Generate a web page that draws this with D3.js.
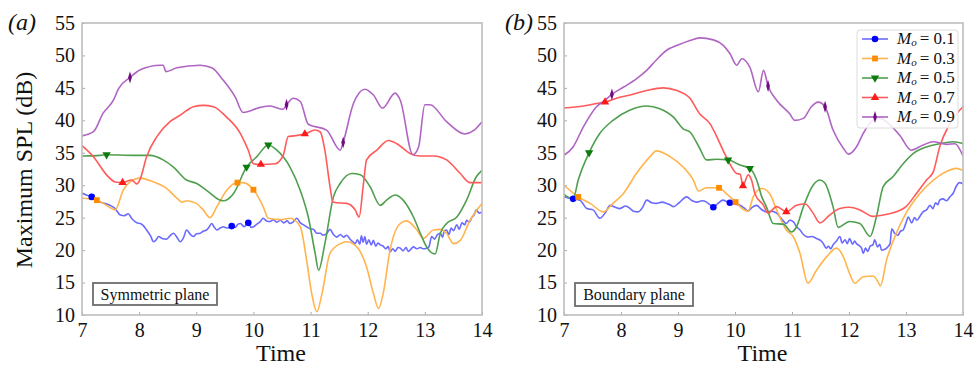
<!DOCTYPE html>
<html><head><meta charset="utf-8">
<script src="https://cdn.jsdelivr.net/npm/d3@7"></script>
<style>body{margin:0;background:#fff}svg{display:block}</style>
</head><body><svg id="c" width="978" height="365"></svg>
<script>
// ---------- DATA ----------
const machLabels = ["0.1","0.3","0.5","0.7","0.9"];
const xTicks = [7,8,9,10,11,12,13,14];
const yTicks = [10,15,20,25,30,35,40,45,50,55];
const panelTags = ["(a)","(b)"];
const planeNames = ["Symmetric plane","Boundary plane"];

// Symmetric plane (a)
const symM01 = [[7.0,28.8],[7.1,28.4],[7.17,28.2],[7.25,27.8],[7.32,27.4],[7.4,27.2],[7.49,26.9],[7.58,26.4],[7.67,25.4],[7.74,25.3],[7.81,25.6],[7.86,25.0],[7.9,24.6],[7.96,24.2],[8.02,24.1],[8.08,23.7],[8.13,23.1],[8.2,22.2],[8.25,21.3],[8.3,21.6],[8.34,22.1],[8.4,21.8],[8.48,21.7],[8.54,22.2],[8.6,22.6],[8.66,22.0],[8.72,21.3],[8.78,22.0],[8.83,23.1],[8.9,22.4],[8.95,22.1],[9.0,22.5],[9.07,22.6],[9.12,22.9],[9.18,23.1],[9.22,23.5],[9.27,24.1],[9.31,23.6],[9.36,23.1],[9.42,23.4],[9.47,23.6],[9.55,23.4],[9.62,23.7],[9.68,23.5],[9.73,24.0],[9.77,24.1],[9.84,23.6],[9.91,24.2],[9.96,23.5],[10.0,23.6],[10.06,24.0],[10.12,24.4],[10.17,24.9],[10.23,24.5],[10.29,24.4],[10.35,24.7],[10.41,24.3],[10.47,24.6],[10.53,24.2],[10.59,24.5],[10.64,24.1],[10.7,24.4],[10.76,24.9],[10.82,24.2],[10.88,23.9],[10.93,23.6],[10.99,23.3],[11.05,23.2],[11.11,22.6],[11.17,22.6],[11.22,22.3],[11.28,22.5],[11.34,23.2],[11.4,22.4],[11.46,22.0],[11.52,22.4],[11.58,22.0],[11.63,22.3],[11.7,21.6],[11.75,21.2],[11.78,21.0],[11.82,21.6],[11.86,20.9],[11.89,22.2],[11.92,21.2],[11.95,22.1],[11.98,20.9],[12.02,21.6],[12.06,20.8],[12.1,21.5],[12.14,20.6],[12.18,21.1],[12.22,20.8],[12.27,20.6],[12.32,20.2],[12.36,20.6],[12.39,19.7],[12.44,20.2],[12.48,19.8],[12.53,20.4],[12.57,20.3],[12.62,19.9],[12.67,20.4],[12.71,19.8],[12.74,20.0],[12.8,20.5],[12.86,20.2],[12.92,20.4],[12.97,20.2],[13.03,20.3],[13.07,20.5],[13.12,22.1],[13.17,21.7],[13.22,22.4],[13.27,22.6],[13.31,22.0],[13.34,23.0],[13.38,23.1],[13.42,22.4],[13.46,23.4],[13.5,23.0],[13.56,23.9],[13.6,23.2],[13.65,24.2],[13.7,23.9],[13.73,24.6],[13.78,24.3],[13.82,25.0],[13.86,25.4],[13.9,26.2],[13.95,25.7],[14.0,25.9]];
const symM03 = [[7.0,28.0],[7.26,27.7],[7.43,26.9],[7.58,26.2],[7.72,29.2],[7.84,30.5],[8.02,31.1],[8.25,30.5],[8.48,29.5],[8.66,28.0],[8.75,27.4],[8.83,27.6],[9.0,27.2],[9.12,26.2],[9.24,25.0],[9.36,26.7],[9.53,29.2],[9.72,30.4],[9.82,30.4],[10.0,29.3],[10.17,26.7],[10.26,24.9],[10.47,24.7],[10.64,24.9],[10.82,23.6],[10.93,18.5],[11.02,13.3],[11.11,10.5],[11.2,13.3],[11.34,19.5],[11.52,21.0],[11.63,21.3],[11.81,20.5],[11.98,17.4],[12.1,13.3],[12.19,11.0],[12.27,13.3],[12.39,20.0],[12.57,24.1],[12.68,24.5],[12.86,23.1],[12.97,21.8],[13.15,23.1],[13.27,23.2],[13.38,22.6],[13.5,21.0],[13.62,21.5],[13.79,24.6],[14.0,27.2]];
const symM05 = [[7.0,34.5],[7.32,34.6],[7.43,34.7],[7.9,34.6],[8.19,34.6],[8.42,33.9],[8.6,32.8],[8.83,30.8],[9.0,30.3],[9.18,29.2],[9.42,27.7],[9.47,27.6],[9.65,28.7],[9.88,32.8],[10.06,34.4],[10.26,36.2],[10.41,35.4],[10.64,32.8],[10.82,29.2],[10.96,25.1],[11.08,19.5],[11.14,16.9],[11.25,21.0],[11.4,28.2],[11.52,30.3],[11.72,31.8],[11.87,31.6],[12.04,29.8],[12.22,26.9],[12.33,27.7],[12.48,28.5],[12.62,27.7],[12.8,25.1],[12.92,22.6],[13.03,20.5],[13.18,19.4],[13.27,22.6],[13.38,24.1],[13.56,25.1],[13.73,27.7],[13.9,31.3],[14.0,32.3]];
const symM07 = [[7.0,36.1],[7.2,34.4],[7.43,31.6],[7.58,30.5],[7.71,30.4],[7.87,30.8],[7.96,30.2],[8.02,31.0],[8.13,34.4],[8.31,37.5],[8.54,39.8],[8.72,40.8],[8.95,42.1],[9.12,42.3],[9.3,42.1],[9.53,40.5],[9.77,38.0],[9.91,35.4],[10.0,33.3],[10.13,33.2],[10.38,33.3],[10.52,34.6],[10.61,37.5],[10.7,37.6],[10.9,37.9],[11.08,38.5],[11.17,38.2],[11.25,35.4],[11.34,29.8],[11.39,27.4],[11.46,27.3],[11.63,27.2],[11.78,26.2],[11.85,25.1],[11.92,29.8],[11.98,33.9],[12.16,35.4],[12.36,36.9],[12.51,36.4],[12.74,34.9],[12.92,34.5],[13.15,34.5],[13.38,33.9],[13.62,31.8],[13.79,30.4],[14.0,30.4]];
const symM09 = [[7.0,37.6],[7.2,38.25],[7.37,41.1],[7.55,43.1],[7.64,44.9],[7.84,46.6],[8.02,47.8],[8.37,48.5],[8.42,48.5],[8.47,47.5],[8.66,48.1],[9.07,48.5],[9.27,48.1],[9.47,46.2],[9.68,43.6],[9.82,41.2],[10.12,42.0],[10.29,42.2],[10.52,41.7],[10.58,42.4],[10.7,43.4],[10.82,42.9],[10.96,39.4],[11.28,38.5],[11.52,35.4],[11.57,36.6],[11.75,42.6],[11.95,44.8],[12.1,43.9],[12.26,41.9],[12.48,44.2],[12.57,43.1],[12.79,34.7],[12.89,35.9],[13.0,42.4],[13.09,42.4],[13.38,39.8],[13.7,37.9],[13.85,38.4],[14.0,39.8]];

// Boundary plane (b)
const bndM01 = [[7.0,28.2],[7.16,27.9],[7.28,27.7],[7.4,26.4],[7.51,26.2],[7.63,24.9],[7.72,25.7],[7.81,26.9],[7.9,26.6],[7.98,26.4],[8.08,26.8],[8.16,26.4],[8.22,26.0],[8.3,25.9],[8.38,26.6],[8.45,27.7],[8.54,27.3],[8.62,27.2],[8.72,27.4],[8.8,27.2],[8.86,27.0],[8.92,26.7],[9.02,27.3],[9.15,28.2],[9.25,27.6],[9.33,27.4],[9.42,27.6],[9.5,27.4],[9.56,27.0],[9.62,26.6],[9.7,27.2],[9.79,27.7],[9.85,27.5],[9.91,27.3],[10.0,27.1],[10.09,26.9],[10.16,26.5],[10.23,26.0],[10.3,26.6],[10.38,26.9],[10.46,26.3],[10.55,25.9],[10.64,26.0],[10.73,25.7],[10.82,24.8],[10.9,24.1],[10.96,24.6],[11.02,24.4],[11.08,23.6],[11.14,23.1],[11.2,22.4],[11.28,22.0],[11.35,22.1],[11.43,21.8],[11.5,21.5],[11.55,21.0],[11.6,20.3],[11.64,20.6],[11.68,20.2],[11.72,20.8],[11.78,21.4],[11.84,22.1],[11.88,21.1],[11.93,21.6],[11.97,21.0],[12.01,21.8],[12.06,20.9],[12.1,21.4],[12.13,21.0],[12.18,20.7],[12.22,20.3],[12.25,19.5],[12.29,20.3],[12.33,19.8],[12.37,20.6],[12.42,20.8],[12.45,21.6],[12.5,20.5],[12.54,20.9],[12.57,20.0],[12.62,20.1],[12.66,20.3],[12.72,21.0],[12.75,23.3],[12.8,22.6],[12.86,22.3],[12.9,22.9],[12.95,23.1],[13.0,24.2],[13.04,25.1],[13.1,24.2],[13.15,25.0],[13.19,24.6],[13.25,25.3],[13.3,25.9],[13.36,26.2],[13.42,26.9],[13.47,26.4],[13.52,27.3],[13.56,27.0],[13.59,27.7],[13.65,27.9],[13.71,27.6],[13.77,28.2],[13.83,28.8],[13.88,29.8],[13.94,30.4],[14.0,30.2]];
const bndM03 = [[7.0,30.0],[7.25,28.2],[7.46,27.2],[7.69,25.9],[7.86,27.2],[8.04,28.7],[8.27,31.8],[8.51,34.4],[8.62,35.3],[8.86,34.4],[9.09,32.8],[9.27,30.8],[9.36,29.1],[9.5,29.6],[9.72,29.6],[9.85,28.7],[10.01,27.4],[10.14,26.3],[10.23,26.0],[10.32,28.2],[10.47,29.5],[10.61,28.7],[10.73,26.2],[10.9,23.1],[11.02,22.1],[11.14,19.5],[11.28,14.9],[11.43,16.9],[11.61,19.0],[11.78,20.3],[11.9,19.0],[12.01,16.4],[12.1,14.9],[12.25,15.9],[12.42,16.0],[12.51,15.1],[12.55,14.5],[12.66,18.5],[12.83,22.6],[13.0,25.7],[13.24,28.7],[13.48,30.8],[13.71,32.1],[13.88,32.6],[14.0,32.3]];
const bndM05 = [[7.0,28.6],[7.16,27.9],[7.25,30.8],[7.44,35.0],[7.63,38.0],[7.86,40.0],[8.16,41.6],[8.45,42.2],[8.68,41.8],[8.92,40.5],[9.09,38.7],[9.21,38.2],[9.38,35.7],[9.5,33.9],[9.68,34.0],[9.88,33.9],[10.09,33.1],[10.26,32.6],[10.38,30.8],[10.47,28.2],[10.55,26.7],[10.67,24.1],[10.85,24.0],[10.99,22.8],[11.08,23.6],[11.2,26.7],[11.37,30.0],[11.49,30.8],[11.58,30.3],[11.72,26.7],[11.81,23.5],[12.01,24.4],[12.19,24.1],[12.37,22.1],[12.48,25.1],[12.6,29.8],[12.77,31.3],[12.95,33.3],[13.13,34.9],[13.36,35.9],[13.59,36.4],[13.83,36.7],[14.0,36.4]];
const bndM07 = [[7.0,41.9],[7.34,42.2],[7.57,42.6],[7.72,42.8],[7.92,43.4],[8.16,43.9],[8.45,44.6],[8.74,45.0],[8.98,44.6],[9.21,43.4],[9.38,41.0],[9.56,39.5],[9.68,37.5],[9.79,35.4],[9.91,33.3],[10.03,31.8],[10.09,31.7],[10.14,29.9],[10.23,31.6],[10.29,30.8],[10.35,28.7],[10.5,26.9],[10.58,25.7],[10.73,26.7],[10.9,25.9],[11.08,26.9],[11.23,27.1],[11.37,25.7],[11.49,24.2],[11.66,25.4],[11.84,26.4],[12.01,26.6],[12.19,26.2],[12.42,25.2],[12.6,25.4],[12.83,25.9],[13.0,26.7],[13.18,28.7],[13.36,30.8],[13.48,32.1],[13.59,35.9],[13.77,39.5],[14.0,42.1]];
const bndM09 = [[7.0,34.6],[7.16,35.9],[7.34,39.0],[7.57,42.1],[7.72,43.1],[7.84,44.0],[8.04,45.1],[8.27,46.4],[8.45,47.7],[8.62,49.3],[8.8,50.8],[9.0,51.6],[9.21,52.3],[9.38,52.7],[9.62,52.4],[9.79,51.6],[9.91,50.3],[10.03,48.5],[10.12,49.5],[10.26,48.2],[10.41,44.4],[10.5,47.7],[10.58,45.3],[10.73,43.1],[10.96,41.0],[11.05,40.0],[11.2,40.3],[11.34,42.1],[11.46,42.8],[11.58,42.1],[11.72,38.5],[11.9,35.7],[11.99,34.8],[12.13,35.9],[12.25,38.0],[12.42,40.0],[12.54,40.3],[12.72,39.3],[12.89,37.7],[13.09,35.4],[13.3,36.2],[13.48,36.7],[13.71,36.3],[13.86,36.4],[14.0,34.5]];

// marker times per series (a) and (b)
const symMarkT = [[7.17,9.62,9.91],[7.26,9.72,10.0],[7.43,9.88,10.26],[7.71,10.13,10.9],[7.84,10.58,11.57]];
const bndMarkT = [[7.16,9.62,9.91],[7.25,9.72,10.01],[7.44,9.88,10.26],[7.72,10.14,10.9],[7.84,10.58,11.58]];

// ---------- STYLE ----------
const lineColors = ["#6a6aff","#ffb44d","#4f9f4f","#ff5a5a","#b064c4"];
const markColors = ["#0000ff","#ff8c00","#0c7a0c","#ff1a1a","#6e0f80"];
const serif = "'Liberation Serif','Times New Roman',serif";

const svg = d3.select("#c");
const panels = [
  {x0:82, x1:482, series:[symM01,symM03,symM05,symM07,symM09], marks:symMarkT, tagX:8, name:planeNames[0], box:[93,283,124,22]},
  {x0:564, x1:963, series:[bndM01,bndM03,bndM05,bndM07,bndM09], marks:bndMarkT, tagX:505, name:planeNames[1], box:[575,283,118,23]}
];
const yTop = 23, yBot = 315;

function symbolFor(i){
  return [d3.symbolCircle, d3.symbolSquare, d3.symbolTriangle, d3.symbolTriangle, d3.symbolDiamond][i];
}
function markerPath(g, i, cx, cy){
  const size = [34,34,30,30,34][i];
  const p = g.append("path").attr("d", d3.symbol(symbolFor(i), size)()).attr("fill", markColors[i]);
  let tr = `translate(${cx},${cy})`;
  if (i===2) tr += " rotate(180)";
  if (i===4) tr += " scale(0.6,1.1)";
  p.attr("transform", tr);
}
function interp(data, t){
  for (let k=1;k<data.length;k++){
    if (data[k][0] >= t){
      const a=data[k-1], b=data[k];
      const f=(t-a[0])/(b[0]-a[0]);
      return a[1]+f*(b[1]-a[1]);
    }
  }
  return data[data.length-1][1];
}

panels.forEach((P, pi) => {
  const x = d3.scaleLinear().domain([7,14]).range([P.x0, P.x1]);
  const y = d3.scaleLinear().domain([10,55]).range([yBot, yTop]);
  const g = svg.append("g");

  const xa = d3.axisBottom(x).tickValues(xTicks).tickFormat(d3.format("d")).tickSizeInner(-3).tickSizeOuter(0).tickPadding(8);
  const ya = d3.axisLeft(y).tickValues(yTicks).tickFormat(d3.format("d")).tickSizeInner(-3).tickSizeOuter(0).tickPadding(7);
  const gx = g.append("g").attr("transform",`translate(0,${yBot})`).call(xa);
  const gy = g.append("g").attr("transform",`translate(${P.x0},0)`).call(ya);
  [gx,gy].forEach(a=>{
    a.select(".domain").remove();
    a.selectAll(".tick line").attr("stroke","#aaa").attr("stroke-width",1);
    a.selectAll("text").attr("font-family",serif).attr("font-size",20).attr("fill","#111");
  });

  const cid = "clip"+pi;
  svg.append("clipPath").attr("id",cid).append("rect").attr("x",P.x0).attr("y",yTop).attr("width",P.x1-P.x0).attr("height",yBot-yTop);

  const line = d3.line().x(d=>x(d[0])).y(d=>y(d[1])).curve(d3.curveMonotoneX);
  const lg = g.append("g").attr("clip-path",`url(#${cid})`);
  P.series.forEach((s,i)=>{
    lg.append("path").datum(s).attr("d",line).attr("fill","none")
      .attr("stroke",lineColors[i]).attr("stroke-width",1.6).attr("stroke-linejoin","round");
  });
  P.series.forEach((s,i)=>{
    P.marks[i].forEach(t=>markerPath(lg,i,x(t),y(interp(s,t))));
  });

  g.append("rect").attr("x",P.x0).attr("y",yTop).attr("width",P.x1-P.x0).attr("height",yBot-yTop)
    .attr("fill","none").attr("stroke","#bdbdbd").attr("stroke-width",1.6);

  const [bx,by,bw,bh] = P.box;
  g.append("rect").attr("x",bx).attr("y",by).attr("width",bw).attr("height",bh)
    .attr("fill","#fff").attr("stroke","#6d6d6d").attr("stroke-width",1.8);
  g.append("text").attr("x",bx+bw/2).attr("y",by+bh/2+5.5).attr("text-anchor","middle")
    .attr("font-family",serif).attr("font-size",16).attr("fill","#111").text(P.name);

  g.append("text").attr("x",P.tagX).attr("y",30).attr("font-family",serif).attr("font-size",24)
    .attr("font-style","italic").attr("fill","#111").text(panelTags[pi]);

  g.append("text").attr("x",(P.x0+P.x1)/2 - 1).attr("y",361).attr("text-anchor","middle")
    .attr("font-family",serif).attr("font-size",24).attr("fill","#111").text("Time");
});

svg.append("text").attr("transform","translate(32,170) rotate(-90)").attr("text-anchor","middle")
  .attr("font-family",serif).attr("font-size",24).attr("fill","#111").text("Maximum SPL (dB)");

// legend
const leg = svg.append("g");
leg.append("rect").attr("x",857).attr("y",30).attr("width",101).attr("height",98).attr("rx",3)
  .attr("fill","#fff").attr("fill-opacity",0.85).attr("stroke","#dcdcdc").attr("stroke-width",1);
machLabels.forEach((m,i)=>{
  const ry = 39 + i*19.5;
  leg.append("line").attr("x1",862).attr("x2",888).attr("y1",ry).attr("y2",ry)
    .attr("stroke",lineColors[i]).attr("stroke-width",1.6);
  markerPath(leg,i,875,ry);
  const t = leg.append("text").attr("x",897).attr("y",ry+5).attr("font-family",serif).attr("font-size",17).attr("fill","#111");
  t.append("tspan").attr("font-style","italic").text("M");
  t.append("tspan").attr("font-style","italic").attr("font-size",11).attr("dy",2).text("o");
  t.append("tspan").attr("dy",-2).attr("dx",3).text("= " + m);
});
</script></body></html>
